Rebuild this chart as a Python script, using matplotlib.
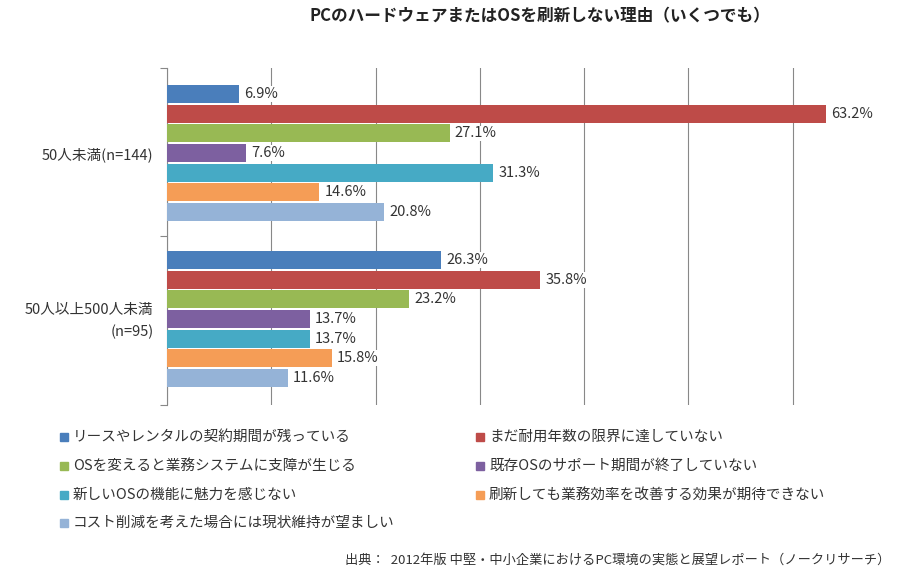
import matplotlib
matplotlib.use('Agg')
import matplotlib.pyplot as plt

plt.rcParams['font.family'] = ['Noto Sans CJK JP', 'DejaVu Sans']

groups = ['50人未満(n=144)', '50人以上500人未満\n(n=95)']
series = [
    'リースやレンタルの契約期間が残っている',
    'まだ耐用年数の限界に達していない',
    'OSを変えると業務システムに支障が生じる',
    '既存OSのサポート期間が終了していない',
    '新しいOSの機能に魅力を感じない',
    '刷新しても業務効率を改善する効果が期待できない',
    'コスト削減を考えた場合には現状維持が望ましい',
]
values_small = [6.9, 63.2, 27.1, 7.6, 31.3, 14.6, 20.8]
values_mid = [26.3, 35.8, 23.2, 13.7, 13.7, 15.8, 11.6]
colors = ['#4A7EBB', '#BE4B48', '#98B954', '#7D60A0', '#46AAC5', '#F59D56', '#95B3D7']

fig = plt.figure(figsize=(9.2, 5.78), dpi=100)
ax = fig.add_axes([167 / 920, 1 - 405 / 578, 730 / 920, 337 / 578])

group_centers = [85, 251]
step = 19.6
for g, vals in enumerate([values_small, values_mid]):
    for i, v in enumerate(vals):
        y = group_centers[g] + (i - 3) * step
        ax.barh(y, v, height=18, color=colors[i], zorder=3)
        ax.text(v + 0.5, y, f'{v}%', va='center', ha='left', fontsize=10.5,
                color='#333333', zorder=4,
                bbox=dict(facecolor='white', edgecolor='none', pad=0.5))

ax.set_xlim(0, 70)
ax.set_ylim(337, 0)
ax.set_xticks(range(0, 70, 10))
ax.set_xticklabels([])
ax.tick_params(axis='x', length=0)
ax.grid(axis='x', color='#888888', linewidth=0.8, zorder=0)
ax.set_yticks([0, 168, 337], minor=False)
ax.set_yticklabels([])
ax.tick_params(axis='y', length=5, color='#888888')
for g, c in zip(groups, group_centers):
    ax.text(-1.3, c + 2, g, ha='right', va='center', fontsize=10.5, color='#333333',
            linespacing=1.6)
for s in ['top', 'right', 'bottom']:
    ax.spines[s].set_visible(False)
ax.spines['left'].set_color('#888888')

fig.text(540 / 920, 1 - 16 / 578, 'PCのハードウェアまたはOSを刷新しない理由（いくつでも）',
         ha='center', va='center', fontsize=12, fontweight='bold', color='#222222')

rows = [437, 466, 495, 523]
cols = [60, 476]
for i, name in enumerate(series):
    x = cols[i % 2]
    y = rows[i // 2]
    fig.patches.append(plt.Rectangle((x / 920, 1 - (y + 4) / 578), 8 / 920, 8 / 578,
                                     transform=fig.transFigure, color=colors[i]))
    fig.text((x + 13) / 920, 1 - y / 578, name, ha='left', va='center',
             fontsize=10.5, color='#333333')

fig.text(890 / 920, 1 - 560 / 578,
         '出典：  2012年版 中堅・中小企業におけるPC環境の実態と展望レポート（ノークリサーチ）',
         ha='right', va='center', fontsize=9.5, color='#333333')

fig.savefig('out.png', dpi=100)
